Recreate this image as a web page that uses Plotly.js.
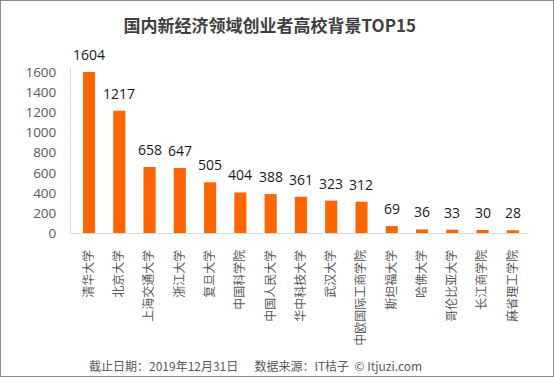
<!DOCTYPE html>
<html>
<head>
<meta charset="utf-8">
<script src="https://cdn.plot.ly/plotly-3.0.1.min.js"></script>
<style>
html,body{margin:0;padding:0;background:#fff;}
#wrap{width:554px;height:377px;box-sizing:border-box;border:1px solid #8c8c8c;position:relative;overflow:hidden;}
#chart{position:absolute;left:-1px;top:-1px;width:554px;height:377px;}
</style>
</head>
<body>
<div id="wrap"><div id="chart"></div></div>
<script>
const schools = ["清华大学","北京大学","上海交通大学","浙江大学","复旦大学","中国科学院","中国人民大学","华中科技大学","武汉大学","中欧国际工商学院","斯坦福大学","哈佛大学","哥伦比亚大学","长江商学院","麻省理工学院"];
const founders = [1604,1217,658,647,505,404,388,361,323,312,69,36,33,30,28];
const yTicks = [0,200,400,600,800,1000,1200,1400,1600];

const font = '"Microsoft YaHei","Noto Sans CJK SC","Noto Sans",sans-serif';
const numFont = '"Segoe UI","Open Sans","Noto Sans",sans-serif';

const trace = {
  type: 'bar',
  x: schools,
  y: founders,
  marker: {color: '#FF6600'},
  cliponaxis: false,
  hoverinfo: 'none'
};

const valueLabels = schools.map((s, i) => ({
  xref: 'x', yref: 'y',
  x: s, y: founders[i],
  text: String(founders[i]),
  showarrow: false,
  xanchor: 'center', yanchor: 'bottom',
  yshift: 6,
  font: {family: numFont, size: 14, color: '#1a1a1a'}
}));

const layout = {
  width: 554, height: 377,
  margin: {l: 71, r: 26, t: 68, b: 144},
  paper_bgcolor: '#fff', plot_bgcolor: '#fff',
  bargap: 0.6,
  showlegend: false,
  font: {family: font},
  title: {
    text: '<b>国内新经济领域创业者高校背景TOP15</b>',
    font: {family: font, size: 17, color: '#404040'},
    x: 0.487, xanchor: 'center', y: 0.93, yanchor: 'middle'
  },
  xaxis: {
    type: 'category',
    tickangle: -90,
    tickfont: {family: font, size: 12, color: '#595959'},
    showline: true, linecolor: '#d9d9d9', linewidth: 1,
    ticks: '', showgrid: false, zeroline: false,
    ticklabelstandoff: 11,
    fixedrange: true
  },
  yaxis: {
    range: [0, 1644],
    tickvals: yTicks,
    ticktext: yTicks.map(String),
    tickfont: {family: numFont, size: 13.5, color: '#595959'},
    showline: true, linecolor: '#d9d9d9', linewidth: 1,
    ticks: '', showgrid: false, zeroline: false,
    ticklabelstandoff: 11,
    fixedrange: true
  },
  annotations: valueLabels.concat([{
    xref: 'paper', yref: 'paper',
    x: (255 - 71) / (554 - 71 - 26),
    y: -(365 - 233) / (377 - 68 - 144),
    xanchor: 'center', yanchor: 'middle',
    text: '截止日期：2019年12月31日\u00a0\u00a0\u00a0\u00a0\u00a0\u00a0数据来源：IT桔子\u00a0\u00a0©\u00a0Itjuzi.com',
    showarrow: false,
    font: {family: font, size: 12, color: '#595959'}
  }])
};

Plotly.newPlot('chart', [trace], layout, {displayModeBar: false, staticPlot: true});
</script>
</body>
</html>
